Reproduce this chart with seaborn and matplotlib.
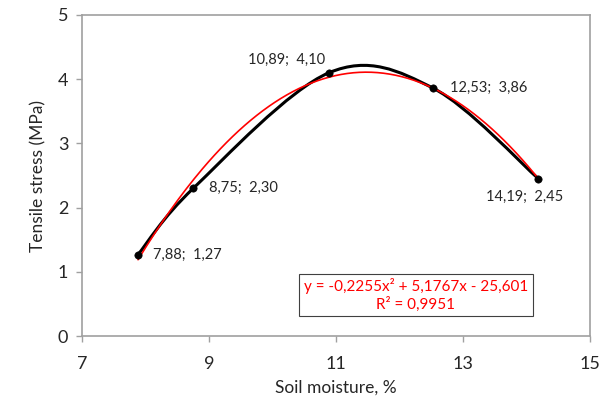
import matplotlib
matplotlib.use('Agg')
import matplotlib.pyplot as plt
from matplotlib.path import Path
from matplotlib.patches import PathPatch
import seaborn as sns
import numpy as np
import pandas as pd

# data
moisture = [7.88, 8.75, 10.89, 12.53, 14.19]
stress = [1.27, 2.30, 4.10, 3.86, 2.45]
point_labels = ['7,88;  1,27', '8,75;  2,30', '10,89;  4,10', '12,53;  3,86', '14,19;  2,45']
trend_coef = [-0.2255, 5.1767, -25.601]
x_ticks = [7, 9, 11, 13, 15]
y_ticks = [0, 1, 2, 3, 4, 5]

sns.set_style('white')
plt.rcParams['font.family'] = ['Lato', 'DejaVu Sans']

df = pd.DataFrame({'moisture': moisture, 'stress': stress})

fig = plt.figure(figsize=(6, 4.03), dpi=100)
ax = fig.add_axes([0.137, 0.166, 0.846, 0.797])

# smoothed line (Excel style bezier through the points)
pts = np.column_stack([moisture, stress])
verts = [pts[0]]
codes = [Path.MOVETO]
n = len(pts)
for i in range(n - 1):
    p0 = pts[i - 1] if i > 0 else pts[i]
    p1 = pts[i]
    p2 = pts[i + 1]
    p3 = pts[i + 2] if i + 2 < n else pts[i + 1]
    verts += [p1 + (p2 - p0) / 6, p2 - (p3 - p1) / 6, p2]
    codes += [Path.CURVE4] * 3
ax.add_patch(PathPatch(Path(verts, codes), fill=False, edgecolor='black', lw=2.2, zorder=3))

# polynomial trendline
xt = np.linspace(moisture[0], moisture[-1], 200)
trend = pd.DataFrame({'x': xt, 'y': np.polyval(trend_coef, xt)})
sns.lineplot(data=trend, x='x', y='y', ax=ax, color='red', lw=1.2, zorder=4)

sns.scatterplot(data=df, x='moisture', y='stress', ax=ax, color='black', s=28,
                edgecolor='black', zorder=5)

offsets = [(11, 0), (11, 0), (-3, 4), (12, 0), (-10, -8)]
aligns = [('left', 'center'), ('left', 'center'), ('right', 'bottom'),
          ('left', 'center'), ('center', 'top')]
for x, y, lab, off, al in zip(moisture, stress, point_labels, offsets, aligns):
    ax.annotate(lab, (x, y), xytext=off, textcoords='offset points',
                ha=al[0], va=al[1], fontsize=10.5, color='#262626')

ax.text(12.26, 0.64, 'y = -0,2255x² + 5,1767x - 25,601\nR² = 0,9951',
        ha='center', va='center', color='red', fontsize=11, linespacing=1.2,
        bbox=dict(boxstyle='square,pad=0.3', fc='white', ec='#404040', lw=0.8))

ax.set_xlim(7, 15)
ax.set_ylim(0, 5)
ax.set_xticks(x_ticks)
ax.set_yticks(y_ticks)
ax.set_xlabel('Soil moisture, %', fontsize=12.5, color='#262626', labelpad=6)
ax.set_ylabel('Tensile stress (MPa)', fontsize=12.5, color='#262626', labelpad=8)
ax.tick_params(axis='both', labelsize=13, colors='#262626', length=4, width=1,
               direction='out', bottom=True, left=True, color='#a0a0a0')
ax.tick_params(axis='x', pad=10)
ax.tick_params(axis='y', pad=6)
for s in ax.spines.values():
    s.set_color('#a0a0a0')
    s.set_linewidth(1.2)

fig.savefig('out.png', dpi=100)
